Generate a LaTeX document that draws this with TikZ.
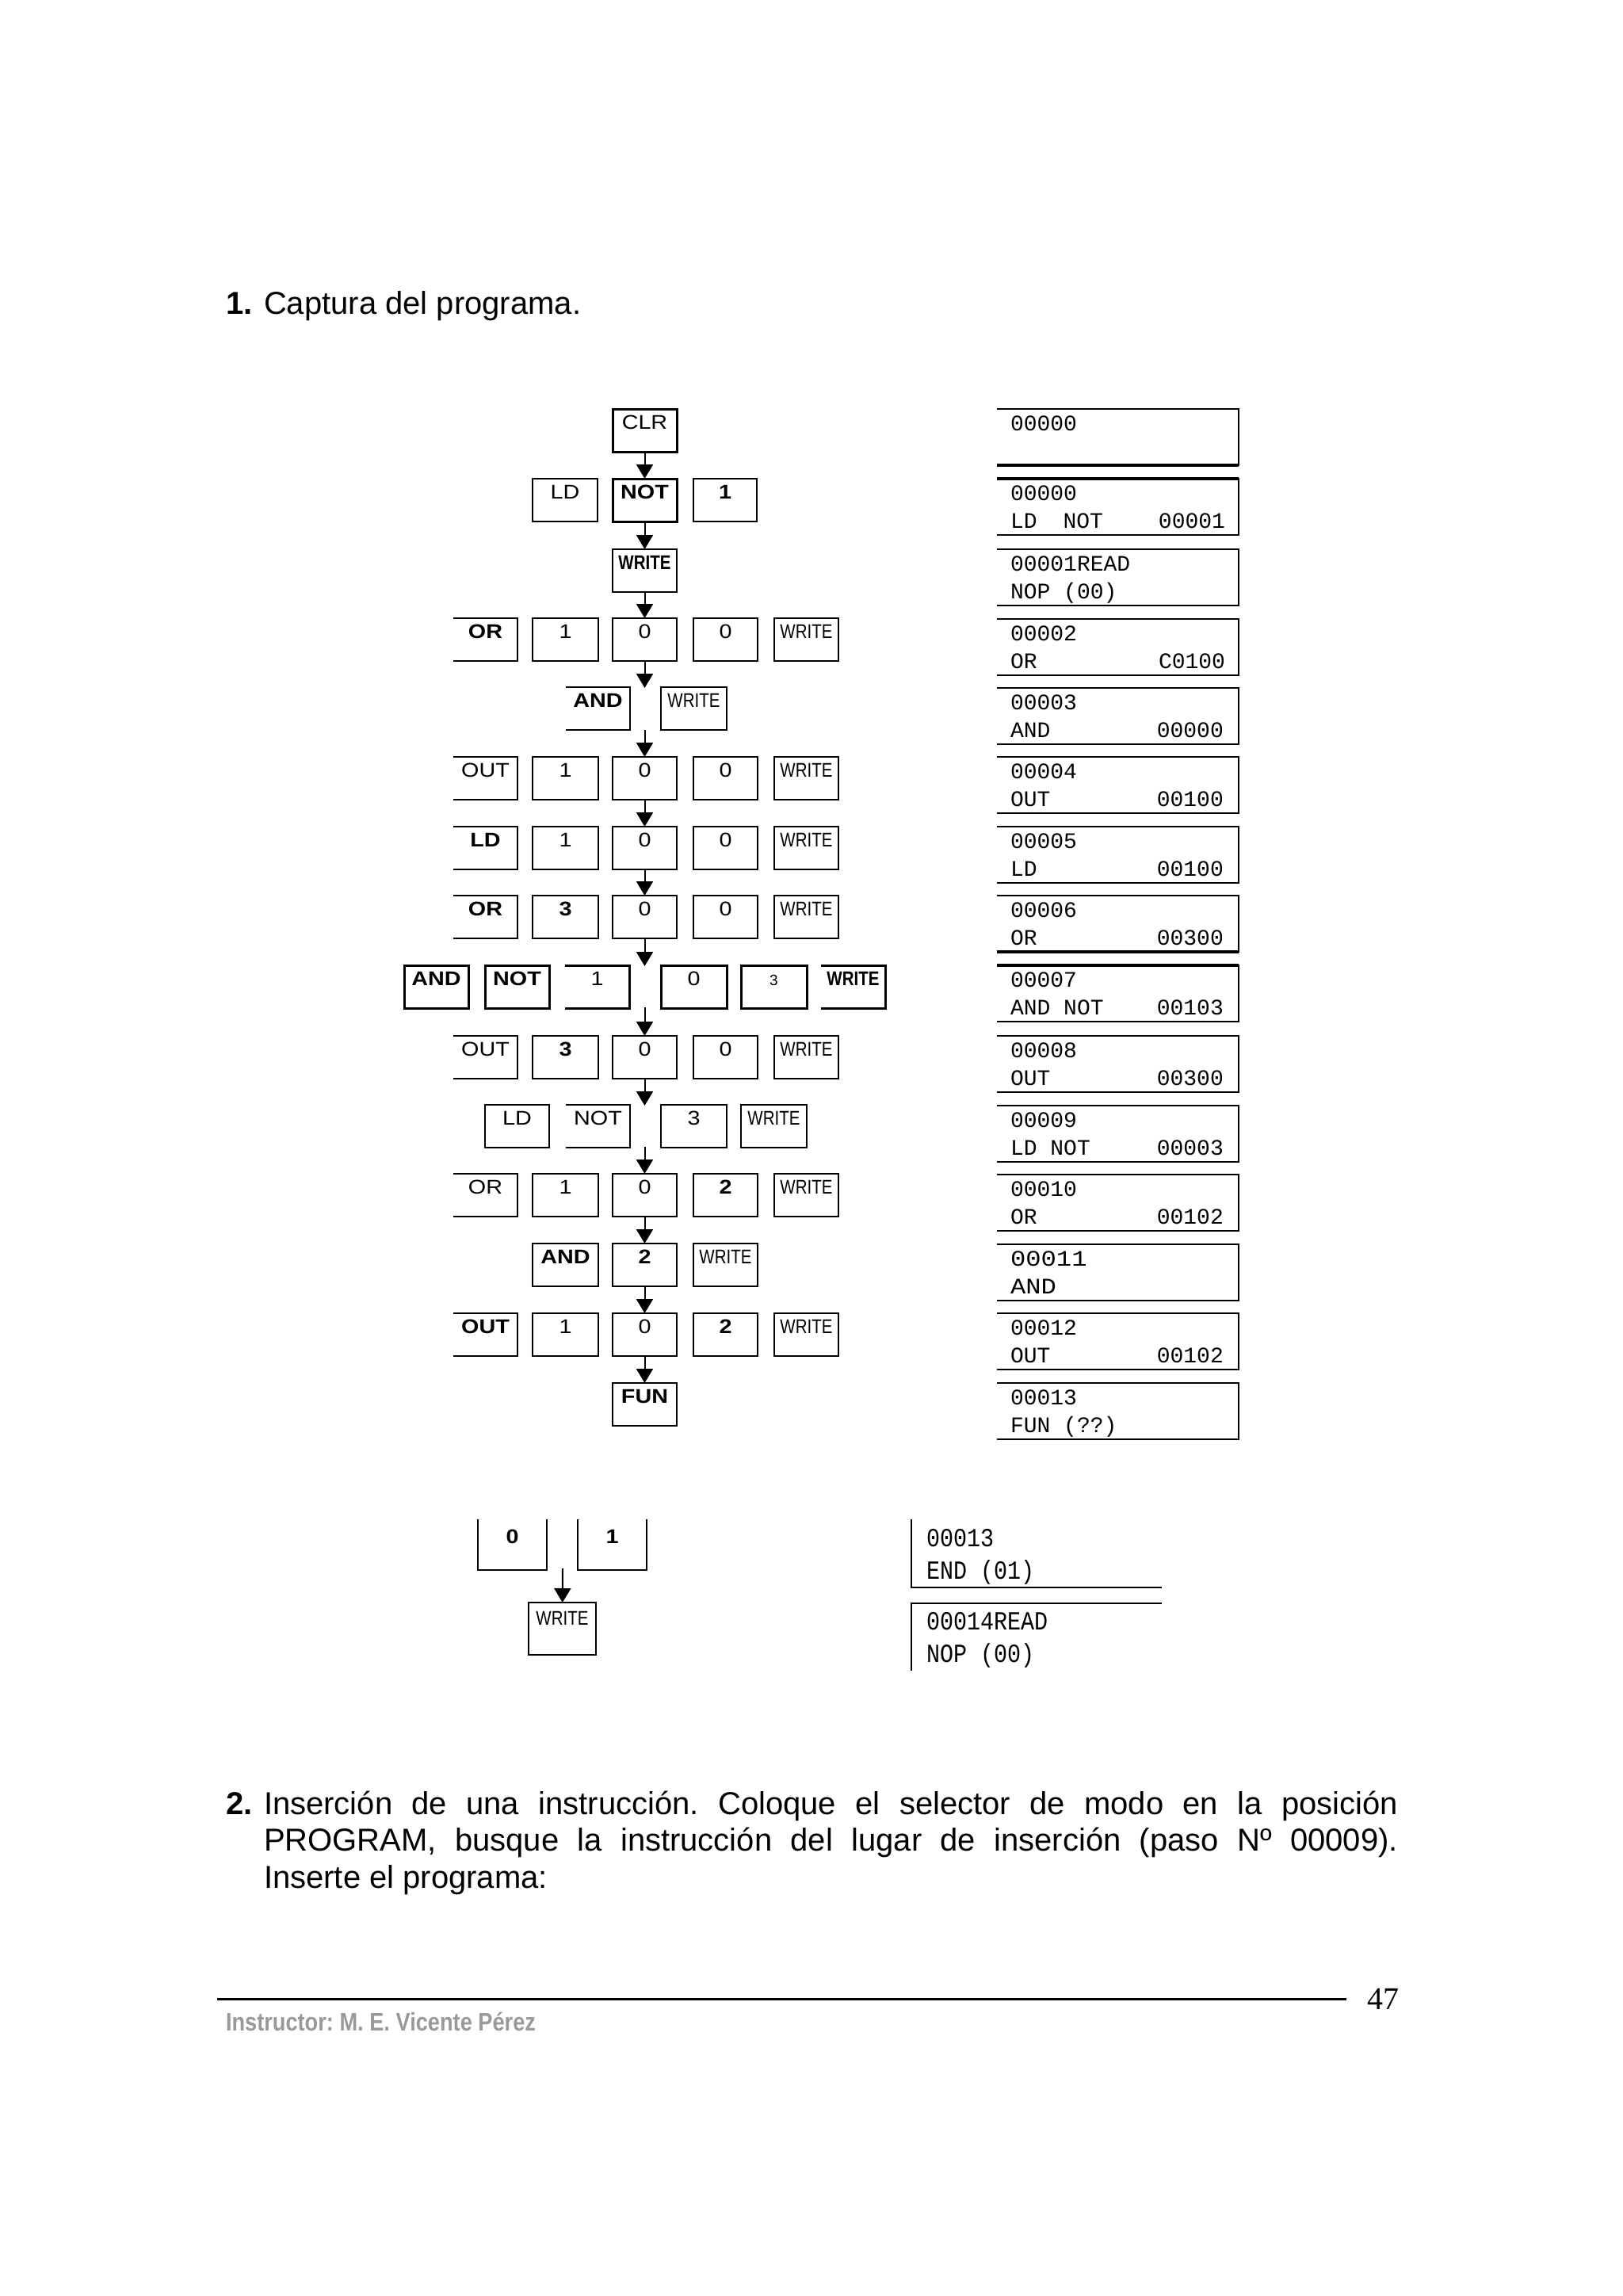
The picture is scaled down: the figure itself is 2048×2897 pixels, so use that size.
\documentclass[tikz,border=0pt]{standalone}
\usepackage{fontspec}
\usepackage{xcolor}
\usetikzlibrary{arrows.meta}
\setmainfont{Liberation Sans}
\newfontfamily\keyfont[FakeStretch=1.15]{Liberation Sans}
\newfontfamily\keynarrow[FakeStretch=0.82]{Liberation Sans}
\newfontfamily\pagefont{Liberation Serif}
\newfontfamily\footfont[FakeStretch=0.85]{Liberation Sans}
\newfontfamily\panelfont{Liberation Mono}
\newfontfamily\panelwide[FakeStretch=1.15]{Liberation Mono}
\newfontfamily\lowfont[FakeStretch=0.86]{Liberation Mono}
\colorlet{footgrey}{black!40}
\hyphenpenalty=10000
\frenchspacing
\tikzset{
  % text options
  body/.style={anchor=base west,inner sep=0pt,outer sep=0pt,font=\fontsize{40}{46.5}\selectfont},
  % key options
  keybase/.style={rectangle,anchor=north west,inner sep=0pt,outer sep=0pt,minimum width=81pt,text height=25pt,text depth=29pt,
    line width=2pt,font=\fontsize{25}{30}\selectfont\keyfont},
  key/.style={keybase,draw},
  keyb/.style={key,font=\fontsize{25}{30}\selectfont\keyfont\bfseries},
  keyw/.style={key,font=\fontsize{25}{30}\selectfont\keynarrow},
  keyopen/.style={keybase},
  keyopenb/.style={keyopen,font=\fontsize{25}{30}\selectfont\keyfont\bfseries},
  keyheavy/.style={line width=3pt},
  % panel options
  panel/.style={rectangle,anchor=north west,inner xsep=17pt,inner ysep=0pt,outer sep=0pt,text width=271pt,align=justify,
    text height=27pt,text depth=44pt,font=\fontsize{28}{35}\selectfont\panelfont},
  lowpanel/.style={panel,inner xsep=19pt,text width=278pt,text height=34pt,text depth=52pt,
    font=\fontsize{33}{41}\selectfont\lowfont},
  % path options
  edge/.style={line width=2pt},
  edgeheavy/.style={line width=3.5pt},
  flow/.style={-{Triangle[length=18pt,width=21pt]},line width=2pt},
}
\begin{document}
\begin{tikzpicture}[x=1pt,y=-1pt]
  \useasboundingbox (0,0) rectangle (2048,2897);
  % page text
  \node[body] (num1) at (285,396) {\textbf{1.}};
  \node[body] (item1) at (333,396) {Captura del programa.};
  \node[body] (num2) at (285,2289) {\textbf{2.}};
  \node[body,text width=1431pt,align=justify] (item2) at (333,2289)
    {\makebox[1431pt][s]{Inserción de una instrucción. Coloque el selector de modo en la posición}\\
     \makebox[1431pt][s]{PROGRAM, busque la instrucción del lugar de inserción (paso Nº 00009).}\\
     Inserte el programa:};
  \coordinate (ruleL) at (274,2522);
  \coordinate (ruleR) at (1699,2522);
  \draw[line width=3pt] (ruleL) -- (ruleR);
  \node[body,font=\fontsize{40}{46}\selectfont\pagefont] (page) at (1725,2535) {47};
  \node[body,text=footgrey,font=\fontsize{32}{38}\selectfont\footfont\bfseries] (foot) at (285,2562) {Instructor: M. E. Vicente Pérez};

  % keys
  \node[key,keyheavy] (clr) at (773,516) {CLR};
  \node[key,minimum width=82pt] (ldA) at (672,604) {LD};
  \node[keyb,keyheavy] (notA) at (773,604) {NOT};
  \node[keyb,minimum width=80pt] (oneA) at (875,604) {1};
  \node[keyw,font=\fontsize{25}{30}\selectfont\keynarrow\bfseries] (writeA) at (773,693) {WRITE};

  \node[keyopenb] (orB) at (572,780) {OR};
  \node[key,minimum width=83pt] (oneB) at (672,780) {1};
  \node[key] (zeroB) at (773,780) {0};
  \node[key] (zeroBb) at (875,780) {0};
  \node[keyw] (writeB) at (977,780) {WRITE};
  \coordinate (gapC) at (813.5,868);

  \node[keyopenb] (andC) at (714,867) {AND};
  \node[keyw,minimum width=83pt] (writeC) at (834,867) {WRITE};
  \coordinate (gapCb) at (813.5,921);

  \node[keyopen] (outD) at (572,955) {OUT};
  \node[key,minimum width=83pt] (oneD) at (672,955) {1};
  \node[key] (zeroD) at (773,955) {0};
  \node[key] (zeroDb) at (875,955) {0};
  \node[keyw] (writeD) at (977,955) {WRITE};

  \node[keyopenb] (ldE) at (572,1043) {LD};
  \node[key,minimum width=83pt] (oneE) at (672,1043) {1};
  \node[key] (zeroE) at (773,1043) {0};
  \node[key] (zeroEb) at (875,1043) {0};
  \node[keyw] (writeE) at (977,1043) {WRITE};

  \node[keyopenb] (orF) at (572,1130) {OR};
  \node[keyb,minimum width=83pt] (threeF) at (672,1130) {3};
  \node[key] (zeroF) at (773,1130) {0};
  \node[key] (zeroFb) at (875,1130) {0};
  \node[keyw] (writeF) at (977,1130) {WRITE};
  \coordinate (gapG) at (813.5,1219);

  \node[keyb,keyheavy] (andG) at (510,1218) {AND};
  \node[keyb,keyheavy] (notG) at (612,1218) {NOT};
  \node[keyopen] (oneG) at (713,1218) {1};
  \node[key,keyheavy,minimum width=83pt] (zeroG) at (834,1218) {0};
  \node[key,keyheavy,minimum width=83pt,font=\fontsize{19}{24}\selectfont] (threeG) at (935,1218) {3};
  \node[keyopen,font=\fontsize{25}{30}\selectfont\keynarrow\bfseries] (writeG) at (1036,1218) {WRITE};
  \coordinate (gapGb) at (813.5,1271);

  \node[keyopen] (outH) at (572,1307) {OUT};
  \node[keyb,minimum width=83pt] (threeH) at (672,1307) {3};
  \node[key] (zeroH) at (773,1307) {0};
  \node[key] (zeroHb) at (875,1307) {0};
  \node[keyw] (writeH) at (977,1307) {WRITE};
  \coordinate (gapI) at (813.5,1395);

  \node[key] (ldI) at (612,1394) {LD};
  \node[keyopen] (notI) at (714,1394) {NOT};
  \node[key,minimum width=83pt] (threeI) at (834,1394) {3};
  \node[keyw,minimum width=83pt] (writeI) at (935,1394) {WRITE};
  \coordinate (gapIb) at (813.5,1447);

  \node[keyopen] (orJ) at (572,1481) {OR};
  \node[key,minimum width=83pt] (oneJ) at (672,1481) {1};
  \node[key] (zeroJ) at (773,1481) {0};
  \node[keyb] (twoJ) at (875,1481) {2};
  \node[keyw] (writeJ) at (977,1481) {WRITE};

  \node[keyb,minimum width=83pt] (andK) at (672,1569) {AND};
  \node[keyb] (twoK) at (773,1569) {2};
  \node[keyw] (writeK) at (875,1569) {WRITE};

  \node[keyopenb] (outL) at (572,1657) {OUT};
  \node[key,minimum width=83pt] (oneL) at (672,1657) {1};
  \node[key] (zeroL) at (773,1657) {0};
  \node[keyb] (twoL) at (875,1657) {2};
  \node[keyw] (writeL) at (977,1657) {WRITE};

  \node[keyb] (fun) at (773,1745) {FUN};

  % keys with an open side
  \foreach \k in {orB,andC,outD,ldE,orF,outH,notI,orJ,outL}
    \draw[edge] (\k.north west) -- (\k.north east) -- (\k.south east) -- (\k.south west);
  \foreach \k in {oneG,writeG}
    \draw[line width=3pt] (\k.north west) -- (\k.north east) -- (\k.south east) -- (\k.south west);

  % arrows
  \draw[flow] (clr) -- (notA);
  \draw[flow] (notA) -- (writeA);
  \draw[flow] (writeA) -- (zeroB);
  \draw[flow] (zeroB) -- (gapC);
  \draw[flow] (gapCb) -- (zeroD);
  \draw[flow] (zeroD) -- (zeroE);
  \draw[flow] (zeroE) -- (zeroF);
  \draw[flow] (zeroF) -- (gapG);
  \draw[flow] (gapGb) -- (zeroH);
  \draw[flow] (zeroH) -- (gapI);
  \draw[flow] (gapIb) -- (zeroJ);
  \draw[flow] (zeroJ) -- (twoK);
  \draw[flow] (twoK) -- (zeroL);
  \draw[flow] (zeroL) -- (fun);

  % display panels
  \node[panel] (stepA) at (1258,516) {00000};
  \node[panel] (stepB) at (1258,604) {00000\\LD~~NOT~~~~\hspace{4pt}00001};
  \node[panel] (stepC) at (1258,693) {00001READ\\NOP~(00)};
  \node[panel] (stepD) at (1258,781) {00002\\OR~~~~~~~~~\hspace{10pt}C0100};
  \node[panel] (stepE) at (1258,868) {00003\\AND~~~~~~~~00000};
  \node[panel] (stepF) at (1258,955) {00004\\OUT~~~~~~~~00100};
  \node[panel] (stepG) at (1258,1043) {00005\\LD~~~~~~~~~00100};
  \node[panel] (stepH) at (1258,1130) {00006\\OR~~~~~~~~~00300};
  \node[panel] (stepI) at (1258,1218) {00007\\AND~NOT~~~~00103};
  \node[panel] (stepJ) at (1258,1307) {00008\\OUT~~~~~~~~00300};
  \node[panel] (stepK) at (1258,1395) {00009\\LD~NOT~~~~~00003};
  \node[panel] (stepL) at (1258,1482) {00010\\OR~~~~~~~~~00102};
  \node[panel,font=\fontsize{28}{35}\selectfont\panelwide] (stepM) at (1258,1570) {00011\\AND};
  \node[panel] (stepN) at (1258,1657) {00012\\OUT~~~~~~~~00102};
  \node[panel] (stepO) at (1258,1745) {00013\\FUN~(??)};
  \foreach \p in {stepA,stepB,stepC,stepD,stepE,stepF,stepG,stepH,stepI,stepJ,stepK,stepL,stepM,stepN,stepO}
    \draw[edge] (\p.north west) -- (\p.north east) -- (\p.south east) -- (\p.south west);
  \draw[edgeheavy] (stepA.south west) -- (stepA.south east);
  \draw[edgeheavy] (stepB.north west) -- (stepB.north east);
  \draw[edgeheavy] (stepH.south west) -- (stepH.south east);
  \draw[edgeheavy] (stepI.north west) -- (stepI.north east);

  % END instruction
  \node[keyopenb,minimum width=87pt,text height=30pt,text depth=34pt] (zeroM) at (603,1917) {0};
  \node[keyopenb,minimum width=87pt,text height=30pt,text depth=34pt] (oneM) at (729,1917) {1};
  \foreach \k in {zeroM,oneM}
    \draw[edge] (\k.north west) -- (\k.south west) -- (\k.south east) -- (\k.north east);
  \coordinate (gapM) at (710,1979);
  \node[keyw,minimum width=85pt,text height=28pt,text depth=38pt] (writeM) at (667,2022) {WRITE};
  \draw[flow] (gapM) -- (writeM);

  \node[lowpanel] (endA) at (1150,1917) {00013\\END~(01)};
  \draw[edge] (endA.north west) |- (endA.south east);
  \node[lowpanel,text height=33pt] (endB) at (1150,2023) {00014READ\\NOP~(00)};
  \draw[edge] (endB.south west) |- (endB.north east);
\end{tikzpicture}
\end{document}
